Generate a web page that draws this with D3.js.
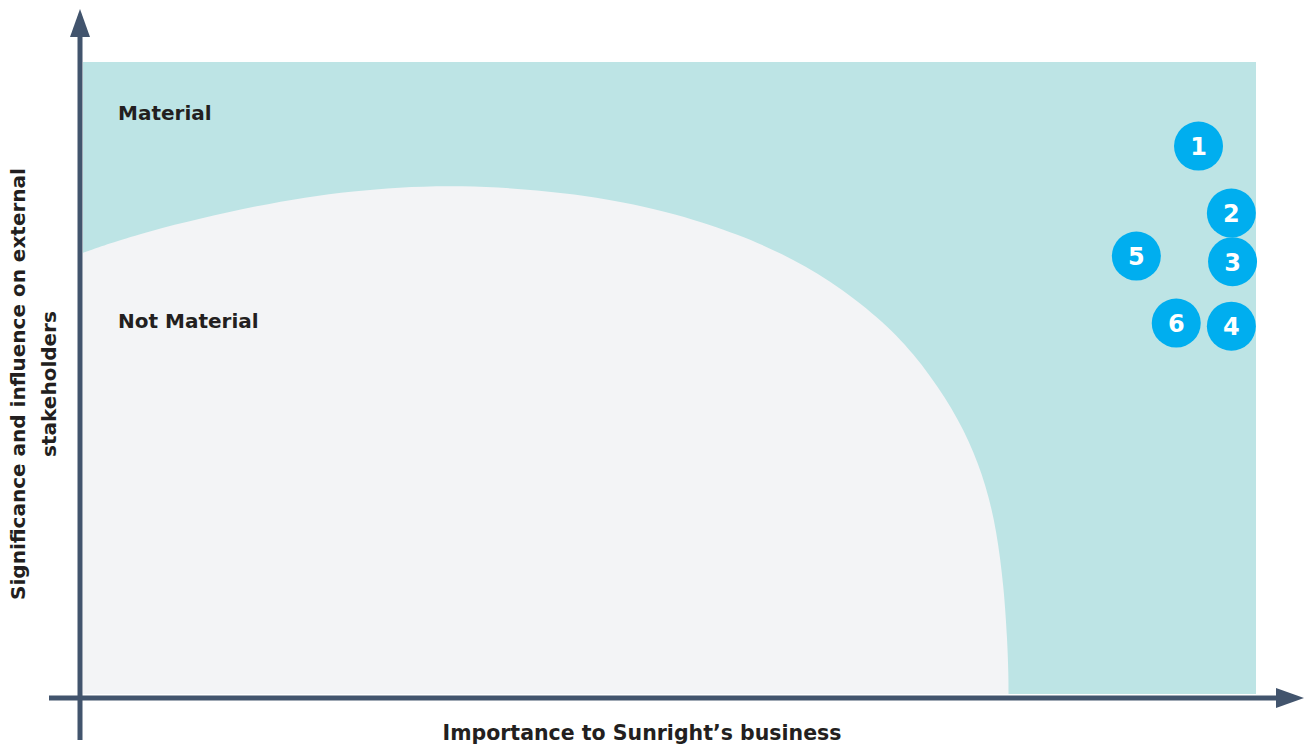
<!DOCTYPE html>
<html>
<head>
<meta charset="utf-8">
<script src="https://cdn.jsdelivr.net/npm/d3@7"></script>
<style>
	body { margin: 0; background: #fff; }
	text { font-family: "DejaVu Sans", "Noto Sans", sans-serif; font-weight: bold; }
</style>
</head>
<body>
<svg id="chart"></svg>
<script>
// issues placed on the matrix (0-100 on both axes)
const issueIds = ["1", "2", "3", "4", "5", "6"];
const issueX = [95.1, 97.9, 98.0, 97.9, 89.8, 93.2];
const issueY = [86.7, 76.1, 68.4, 58.2, 69.3, 58.7];

// boundary of the "Not Material" zone, left to right
const boundaryX = [0, 4.9, 15.1, 22.8, 32.0, 43.2, 50.9, 56.0, 59.4, 63.7, 67.9, 70.8, 73.6, 75.6, 77.0, 77.9, 78.5, 78.8, 78.9, 78.9];
const boundaryY = [69.8, 73.0, 77.5, 79.7, 80.8, 79.1, 75.9, 72.6, 69.9, 65.5, 59.5, 54.0, 46.8, 40.0, 33.0, 25.8, 17.0, 8.5, 3.0, 0];

const zoneLabels = ["Material", "Not Material"];
const zoneLabelY = [91, 58];

const xTitle = "Importance to Sunright\u2019s business";
const yTitle = ["Significance and influence on external", "stakeholders"];

const WIDTH = 1311,
	HEIGHT = 744,
	MARGINS = { top: 62, right: 55, bottom: 50, left: 83 },
	axisColor = "#42546d";

let xScale = d3.scaleLinear()
	.domain([0, 100])
	.range([MARGINS.left, WIDTH - MARGINS.right]);
let yScale = d3.scaleLinear()
	.domain([0, 100])
	.range([HEIGHT - MARGINS.bottom, MARGINS.top]);

let vis = d3.select("#chart")
	.attr("width", WIDTH)
	.attr("height", HEIGHT);

// material background
vis.append("rect")
	.attr("x", xScale(0))
	.attr("y", yScale(100))
	.attr("width", xScale(100) - xScale(0))
	.attr("height", yScale(0) - yScale(100))
	.attr("fill", "#bde4e5");

// not material zone
let boundary = boundaryX.map((x, i) => [x, boundaryY[i]]);
let lineGen = d3.line()
	.x(d => xScale(d[0]))
	.y(d => yScale(d[1]))
	.curve(d3.curveBasis);

vis.append("path")
	.attr("d", lineGen(boundary) + "L" + xScale(0) + "," + yScale(0) + "Z")
	.attr("fill", "#f3f4f6");

// axes
vis.append("line")
	.attr("x1", xScale(0) - 3).attr("x2", xScale(0) - 3)
	.attr("y1", yScale(0) + 46).attr("y2", 36)
	.attr("stroke", axisColor).attr("stroke-width", 5);
vis.append("path")
	.attr("d", d3.line()([[xScale(0) - 13, 37], [xScale(0) - 3, 9], [xScale(0) + 7, 37]]) + "Z")
	.attr("fill", axisColor);

vis.append("line")
	.attr("x1", 49).attr("x2", 1278)
	.attr("y1", yScale(0) + 4).attr("y2", yScale(0) + 4)
	.attr("stroke", axisColor).attr("stroke-width", 5);
vis.append("path")
	.attr("d", d3.line()([[1276, yScale(0) - 6], [1304, yScale(0) + 4], [1276, yScale(0) + 14]]) + "Z")
	.attr("fill", axisColor);

// zone labels
vis.selectAll(".zone")
	.data(zoneLabels)
	.enter().append("text")
	.attr("class", "zone")
	.attr("x", 118)
	.attr("y", (d, i) => yScale(zoneLabelY[i]) + 1)
	.attr("font-size", 20)
	.attr("fill", "#231f20")
	.text(d => d);

// axis titles
vis.append("text")
	.attr("x", 642)
	.attr("y", 740)
	.attr("text-anchor", "middle")
	.attr("font-size", 20.5)
	.attr("fill", "#231f20")
	.text(xTitle);

vis.selectAll(".ytitle")
	.data(yTitle)
	.enter().append("text")
	.attr("class", "ytitle")
	.attr("transform", (d, i) => "translate(" + (25 + i * 31) + ",384) rotate(-90)")
	.attr("text-anchor", "middle")
	.attr("font-size", 20)
	.attr("fill", "#231f20")
	.text(d => d);

// issue bubbles
let issues = issueIds.map((id, i) => ({ id: id, x: issueX[i], y: issueY[i] }));

let bubble = vis.selectAll(".issue")
	.data(issues)
	.enter().append("g")
	.attr("class", "issue")
	.attr("transform", d => "translate(" + xScale(d.x) + "," + yScale(d.y) + ")");

bubble.append("circle")
	.attr("r", 24.5)
	.attr("fill", "#00aeef");

bubble.append("text")
	.attr("text-anchor", "middle")
	.attr("dy", "0.37em")
	.attr("font-size", 24)
	.attr("fill", "#fff")
	.text(d => d.id);
</script>
</body>
</html>
